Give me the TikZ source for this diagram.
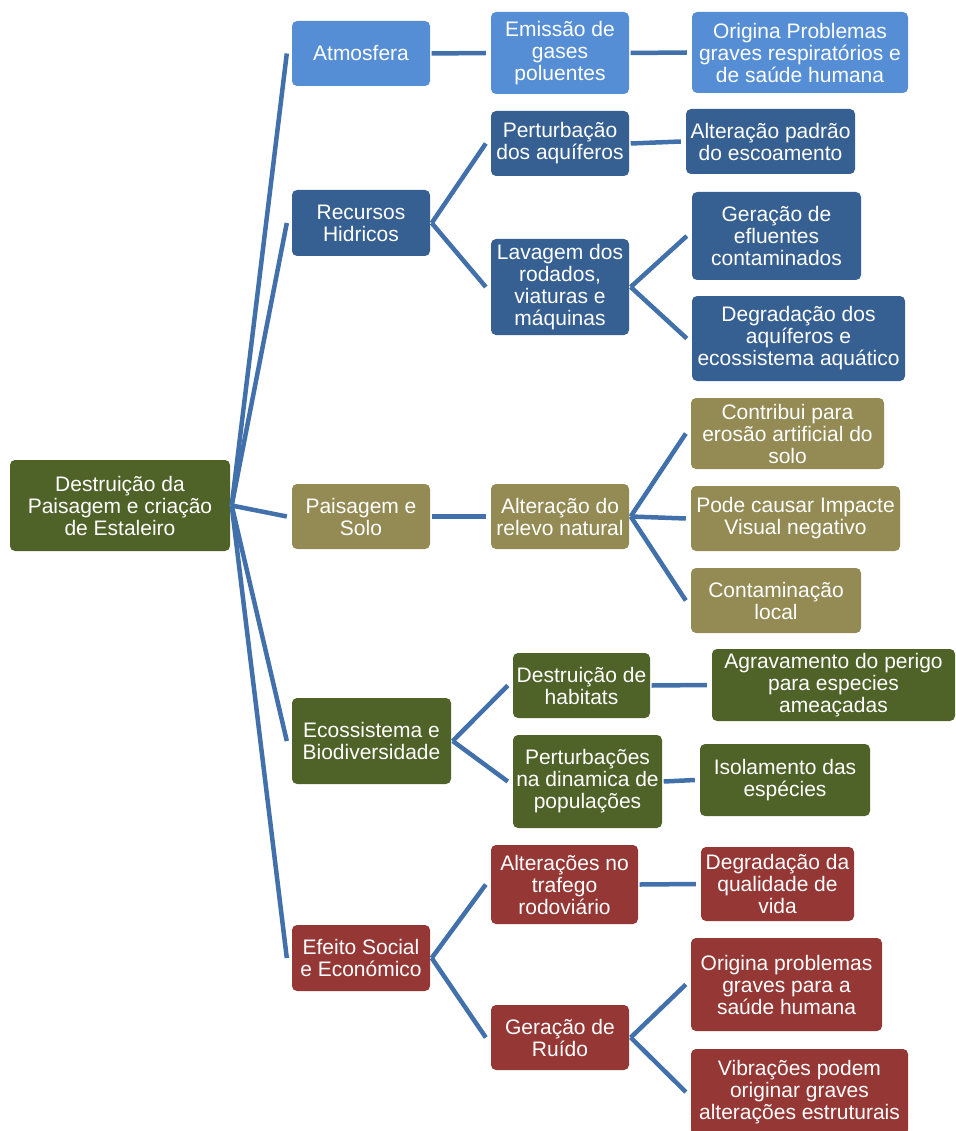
\documentclass[tikz,border=0pt]{standalone}
\usepackage{fontspec}
\setmainfont{Liberation Sans}
\definecolor{lblue}{HTML}{558ED5}
\definecolor{dblue}{HTML}{376092}
\definecolor{khaki}{HTML}{948A54}
\definecolor{olive}{HTML}{4F6228}
\definecolor{dred}{HTML}{953735}
\definecolor{conncol}{HTML}{4170AA}
\begin{document}
\begin{tikzpicture}[x=1pt,y=-1pt,
  box/.style={rounded corners=5pt, text=white, align=center, inner sep=0pt,
    font=\fontsize{21}{22}\selectfont},
  conn/.style={draw=conncol, line width=4.5pt},
  bw/.style={minimum width=#1pt},
  bh/.style={minimum height=#1pt}]
\useasboundingbox (0,0) rectangle (955,1131);
\clip (0,0) rectangle (955,1131);
% root
\node[box, fill=olive, bw=220, bh=91] (root) at (120,505.5) {Destruição da\\Paisagem e criação\\de Estaleiro};
% level 1
\node[box, fill=lblue, bw=138, bh=65] (atm) at (361,53.5) {Atmosfera};
\node[box, fill=dblue, bw=138, bh=66] (rec) at (361,223) {Recursos\\Hidricos};
\node[box, fill=khaki, bw=138, bh=65] (pai) at (361,516.5) {Paisagem e\\Solo};
\node[box, fill=olive, bw=159, bh=86] (eco) at (371.5,741) {Ecossistema e\\Biodiversidade};
\node[box, fill=dred, bw=138, bh=66] (efe) at (361,958) {Efeito Social\\e Económico};
% level 2
\node[box, fill=lblue, bw=138, bh=82] (emi) at (560,53) {Emissão de\\gases\\poluentes};
\node[box, fill=dblue, bw=138, bh=65] (per) at (560,143.5) {Perturbação\\dos aquíferos};
\node[box, fill=dblue, bw=138, bh=96] (lav) at (560,287) {Lavagem dos\\rodados,\\viaturas e\\máquinas};
\node[box, fill=khaki, bw=138, bh=65] (alt) at (560,516.5) {Alteração do\\relevo natural};
\node[box, fill=olive, bw=137, bh=65] (des) at (581.5,685.5) {Destruição de\\habitats};
\node[box, fill=olive, bw=149, bh=93] (pop) at (587.5,781.5) {Perturbações\\na dinamica de\\populações};
\node[box, fill=dred, bw=147, bh=79] (tra) at (564.5,884.5) {Alterações no\\trafego\\rodoviário};
\node[box, fill=dred, bw=138, bh=65] (rui) at (560,1037.5) {Geração de\\Ruído};
% level 3
\node[box, fill=lblue, bw=216, bh=81] (ori) at (800,52.5) {Origina Problemas\\graves respiratórios e\\de saúde humana};
\node[box, fill=dblue, bw=169, bh=65] (esc) at (770.5,141.5) {Alteração padrão\\do escoamento};
\node[box, fill=dblue, bw=169, bh=88] (efl) at (776.5,236) {Geração de\\efluentes\\contaminados};
\node[box, fill=dblue, bw=213, bh=85] (deg) at (798.5,338.5) {Degradação dos\\aquíferos e\\ecossistema aquático};
\node[box, fill=khaki, bw=193, bh=71] (ero) at (787.5,433.5) {Contribui para\\erosão artificial do\\solo};
\node[box, fill=khaki, bw=209, bh=65] (vis) at (795.5,518.5) {Pode causar Impacte\\Visual negativo};
\node[box, fill=khaki, bw=170, bh=65] (con) at (776,600.5) {Contaminação\\local};
\node[box, fill=olive, bw=243, bh=72] (agr) at (833.5,685) {Agravamento do perigo\\para especies\\ameaçadas};
\node[box, fill=olive, bw=170, bh=72] (iso) at (785,780) {Isolamento das\\espécies};
\node[box, fill=dred, bw=153, bh=74] (qua) at (777.5,884) {Degradação da\\qualidade de\\vida};
\node[box, fill=dred, bw=191, bh=93] (sau) at (786.5,984.5) {Origina problemas\\graves para a\\saúde humana};
\node[box, fill=dred, bw=217, bh=86] (vib) at (799.5,1092) {Vibrações podem\\originar graves\\alterações estruturais};
% connectors
\foreach \a/\b in {root/atm, root/rec, root/pai, root/eco, root/efe,
  atm/emi, rec/per, rec/lav, pai/alt, eco/des, eco/pop, efe/tra, efe/rui,
  emi/ori, per/esc, lav/efl, lav/deg, alt/ero, alt/vis, alt/con,
  des/agr, pop/iso, tra/qua, rui/sau, rui/vib}
  \draw[conn] ([xshift=1.5pt]\a.east) -- ([xshift=-5pt]\b.west);
\end{tikzpicture}
\end{document}
